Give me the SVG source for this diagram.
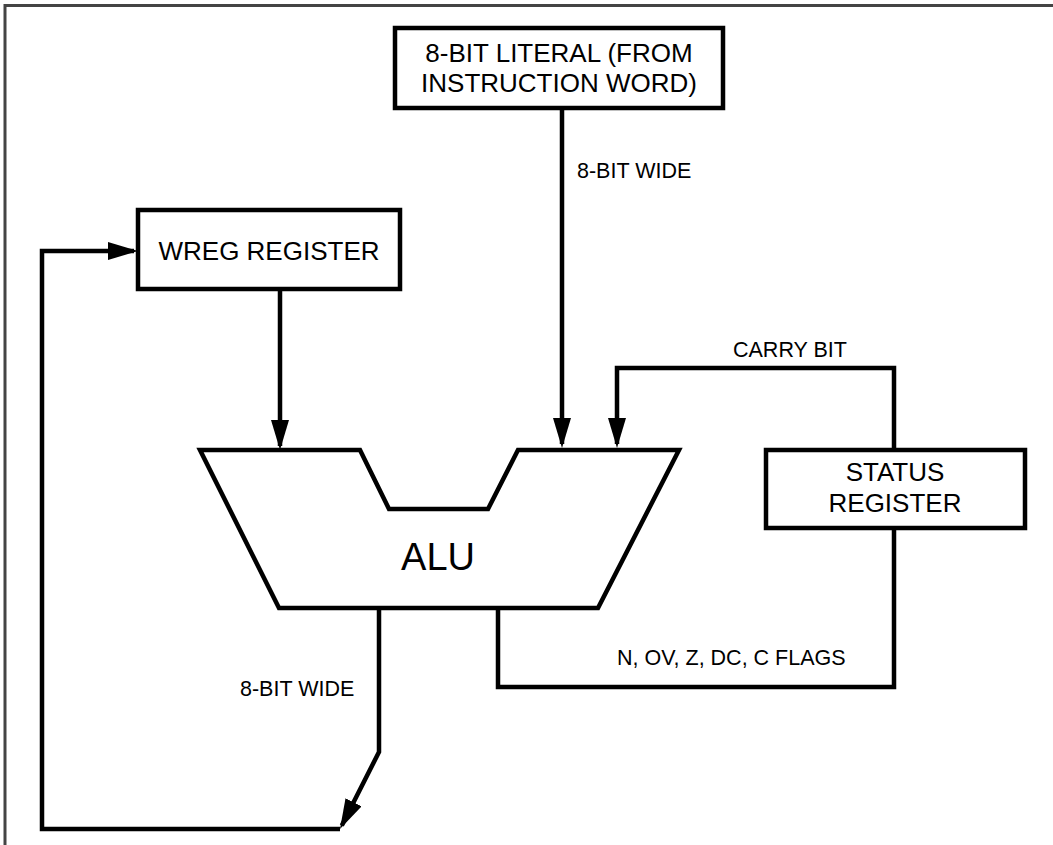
<svg xmlns="http://www.w3.org/2000/svg" width="1053" height="845" viewBox="0 0 1053 845">
<style>
.box{fill:#fff;stroke:#000;stroke-width:4.5}
.wire{fill:none;stroke:#000;stroke-width:4.5;stroke-linejoin:miter}
.t{font-family:"Liberation Sans",Arial,sans-serif;font-size:26px;fill:#000;text-anchor:middle}
.lbl{font-family:"Liberation Sans",Arial,sans-serif;font-size:21.5px;fill:#000}
</style>
<defs>
<marker id="ah" viewBox="0 0 30 18" refX="26" refY="9" markerWidth="30" markerHeight="18" markerUnits="userSpaceOnUse" orient="auto">
<path d="M0,0 L30,9 L0,18 Z" fill="#000"/>
</marker>
</defs>
<rect width="1053" height="845" fill="#fff"/>
<path d="M5,845 V5.5 H1053" fill="none" stroke="#444" stroke-width="3"/>

<g id="connectors">
<path class="wire" d="M562,108 V444" marker-end="url(#ah)"/>
<path class="wire" d="M280,289 V446" marker-end="url(#ah)"/>
<path class="wire" d="M894,450 V368 H617 V444" marker-end="url(#ah)"/>
<path class="wire" d="M379,608 V752 L341.8,825.4" marker-end="url(#ah)"/>
<path class="wire" d="M340,829 H42 V251 H134" marker-end="url(#ah)"/>
<path class="wire" d="M498,608 V687 H894 V528"/>
<text class="lbl" x="577" y="178">8-BIT WIDE</text>
<text class="lbl" x="733" y="357">CARRY BIT</text>
<text class="lbl" x="617" y="665">N, OV, Z, DC, C FLAGS</text>
<text class="lbl" x="240" y="696">8-BIT WIDE</text>
</g>

<g id="literal">
<rect class="box" x="395" y="28" width="328" height="80"/>
<text class="t" x="559" y="62">8-BIT LITERAL (FROM</text>
<text class="t" x="559" y="92">INSTRUCTION WORD)</text>
</g>

<g id="wreg">
<rect class="box" x="138" y="210" width="262" height="79"/>
<text class="t" x="269" y="260">WREG REGISTER</text>
</g>

<g id="alu">
<polygon class="box" points="200,450 360,450 389,509 488,509 518,450 679,450 598,608 279,608"/>
<text class="t" x="438" y="570" style="font-size:38px">ALU</text>
</g>

<g id="status">
<rect class="box" x="766" y="450" width="259" height="78"/>
<text class="t" x="895" y="481">STATUS</text>
<text class="t" x="895" y="512">REGISTER</text>
</g>
</svg>
